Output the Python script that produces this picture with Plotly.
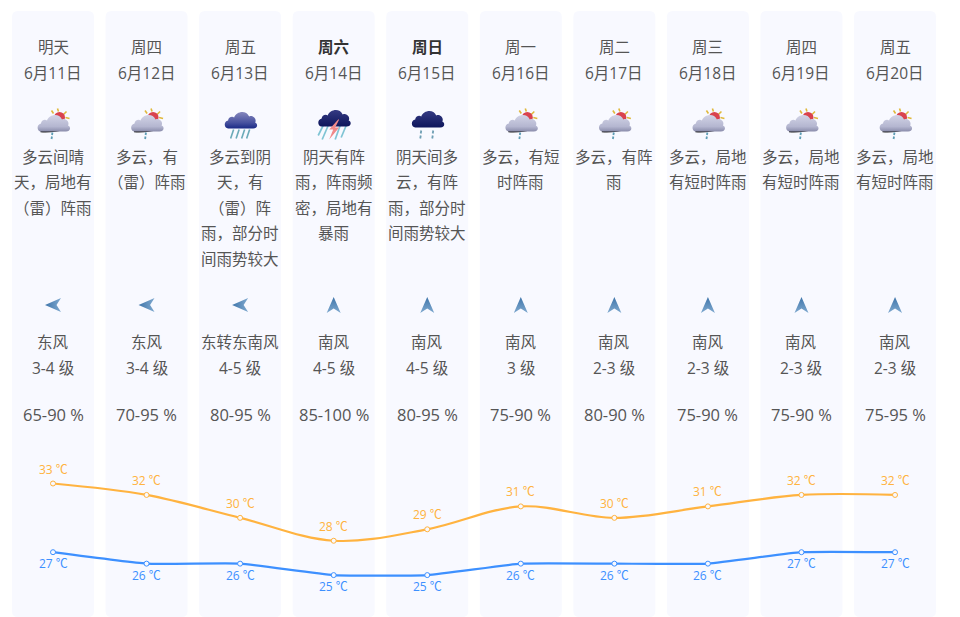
import base64
import plotly.graph_objects as go

# Forecast data
days = ["明天", "周四", "周五", "周六", "周日", "周一", "周二", "周三", "周四", "周五"]
dates = ["6月11日", "6月12日", "6月13日", "6月14日", "6月15日", "6月16日", "6月17日", "6月18日", "6月19日", "6月20日"]
bold_days = [3, 4]
icons = ["sun", "sun", "rain", "storm", "dark", "sun", "sun", "sun", "sun", "sun"]
descriptions = [
    ["多云间晴", "天，局地有", "（雷）阵雨"],
    ["多云，有", "（雷）阵雨"],
    ["多云到阴", "天，有", "（雷）阵", "雨，部分时", "间雨势较大"],
    ["阴天有阵", "雨，阵雨频", "密，局地有", "暴雨"],
    ["阴天间多", "云，有阵", "雨，部分时", "间雨势较大"],
    ["多云，有短", "时阵雨"],
    ["多云，有阵", "雨"],
    ["多云，局地", "有短时阵雨"],
    ["多云，局地", "有短时阵雨"],
    ["多云，局地", "有短时阵雨"],
]
wind_names = ["东风", "东风", "东转东南风", "南风", "南风", "南风", "南风", "南风", "南风", "南风"]
wind_levels = ["3-4 级", "3-4 级", "4-5 级", "4-5 级", "4-5 级", "3 级", "2-3 级", "2-3 级", "2-3 级", "2-3 级"]
wind_angles = [270, 270, 270, 0, 0, 0, 0, 0, 0, 0]
humidity = ["65-90 %", "70-95 %", "80-95 %", "85-100 %", "80-95 %", "75-90 %", "80-90 %", "75-90 %", "75-90 %", "75-95 %"]
high_temps = [33, 32, 30, 28, 29, 31, 30, 31, 32, 32]
low_temps = [27, 26, 26, 25, 25, 26, 26, 26, 27, 27]

W, H = 960, 617
x_first, x_step = 53, 93.56
deg_px = 11.45
y_33 = 483.5

TEXT = "#555555"
FONT = "Open Sans, Noto Sans CJK SC"
ORANGE = "#ffb340"
BLUE = "#3d90ff"
CARD = "#f8f9ff"


def px_x(px):
    return px / W


def px_y(py):
    return 1 - py / H


def data_uri(svg):
    return "data:image/svg+xml;base64," + base64.b64encode(svg.encode()).decode()


def cloud(fill_id, dx, dy):
    return (
        f'<path transform="translate({dx} {dy})" d="M4 19 C0 19 -1 12 4 11 C4 8 8 6 10 8 '
        f'C12 2 22 0 25 7 C29 5 33 10 31 13 C34 14 34 19 29 19 Z" fill="url(#{fill_id})"/>'
    )


def svg_icon(kind):
    defs = (
        '<defs>'
        '<linearGradient id="lt" x1="0" y1="0" x2="0" y2="1"><stop offset="0" stop-color="#d2d3e6"/>'
        '<stop offset="0.7" stop-color="#b4b6d0"/><stop offset="1" stop-color="#8a8cab"/></linearGradient>'
        '<linearGradient id="bl" x1="0" y1="0" x2="0" y2="1"><stop offset="0" stop-color="#8587bd"/>'
        '<stop offset="0.65" stop-color="#47519f"/><stop offset="1" stop-color="#1a2a86"/></linearGradient>'
        '<linearGradient id="dk" x1="0" y1="0" x2="0" y2="1"><stop offset="0" stop-color="#343a82"/>'
        '<stop offset="1" stop-color="#0e165c"/></linearGradient>'
        '</defs>'
    )
    body = ""
    if kind == "sun":
        body += (
            '<g stroke="#e0b93c" stroke-width="1.6">'
            '<path d="M22 1 L23 4"/><path d="M31 4 L28 7"/><path d="M34 11 L30 10"/><path d="M16 3 L18 6"/></g>'
            '<circle cx="24" cy="10" r="5.5" fill="#d9434e"/>'
        )
        body += '<path d="M5 24 Q17 25 31 21" stroke="#222" stroke-width="1.4" fill="none"/>' + cloud("lt", 1.5, 5)
        body += '<g stroke="#5f9db5" stroke-width="1.8"><path d="M17 25 L16.5 27.5"/><path d="M16.5 29 L16 31.5"/></g>'
    elif kind == "rain":
        body += cloud("bl", 1.5, 2)
        body += (
            '<g stroke="#6aaab8" stroke-width="1.6">'
            '<path d="M11 22 L8 31"/><path d="M16.5 22 L13.5 31"/><path d="M22 22 L19 31"/><path d="M27 22 L24 31"/></g>'
        )
    elif kind == "storm":
        body += (
            '<g stroke="#7fc4d4" stroke-width="1.7">'
            '<path d="M7 18 L2 28"/><path d="M12 18 L6 32"/><path d="M24 18 L19 32"/><path d="M30 18 L25 30"/></g>'
        )
        body += cloud("dk", 1.5, 0)
        body += '<path d="M22 12 L13 22 L17 22 L13 32 L23 20 L19 20 L23 12 Z" fill="#f08a8a"/>'
    else:
        body += cloud("dk", 1.5, 1)
        body += (
            '<g stroke="#6f9fb4" stroke-width="1.8">'
            '<path d="M11.5 23 L11 26"/><path d="M11 28 L10.5 31"/><path d="M23.5 23 L23 26"/><path d="M23 28 L22.5 31"/></g>'
        )
    return data_uri(f'<svg xmlns="http://www.w3.org/2000/svg" width="35" height="33" viewBox="0 0 35 33">{defs}{body}</svg>')


def svg_arrow(angle):
    # notched arrow, pointing up before rotation
    return data_uri(
        '<svg xmlns="http://www.w3.org/2000/svg" width="18" height="18" viewBox="0 0 18 18">'
        '<defs><linearGradient id="w" x1="0" y1="0" x2="0" y2="1"><stop offset="0" stop-color="#3f75aa"/>'
        '<stop offset="1" stop-color="#7fa9cf"/></linearGradient></defs>'
        f'<path transform="rotate({angle} 9 9)" d="M9 1 L16 17 L9 12.5 L2 17 Z" fill="url(#w)"/></svg>'
    )


x_idx = list(range(len(days)))
x_px = [x_first + x_step * i for i in x_idx]

fig = go.Figure()

fig.add_trace(
    go.Scatter(
        x=x_idx,
        y=high_temps,
        mode="lines+markers",
        line=dict(color=ORANGE, width=2.2, shape="spline", smoothing=1),
        marker=dict(size=5, color=CARD, line=dict(color=ORANGE, width=1)),
    )
)
fig.add_trace(
    go.Scatter(
        x=x_idx,
        y=low_temps,
        mode="lines+markers",
        line=dict(color=BLUE, width=2.2, shape="spline", smoothing=0.4),
        marker=dict(size=5, color=CARD, line=dict(color=BLUE, width=1)),
    )
)

# Cards behind everything
shapes = []
for cx in x_px:
    l, r, t, b = cx - 41, cx + 41, 11, 617
    rad = 6
    path = (
        f"M {px_x(l + rad)} {px_y(t)} L {px_x(r - rad)} {px_y(t)} "
        f"Q {px_x(r)} {px_y(t)} {px_x(r)} {px_y(t + rad)} "
        f"L {px_x(r)} {px_y(b - rad)} Q {px_x(r)} {px_y(b)} {px_x(r - rad)} {px_y(b)} "
        f"L {px_x(l + rad)} {px_y(b)} Q {px_x(l)} {px_y(b)} {px_x(l)} {px_y(b - rad)} "
        f"L {px_x(l)} {px_y(t + rad)} Q {px_x(l)} {px_y(t)} {px_x(l + rad)} {px_y(t)} Z"
    )
    shapes.append(dict(type="path", path=path, xref="paper", yref="paper", fillcolor=CARD, line_width=0, layer="below"))


def add_text(text, cx, cy, bold=False, size=15.5):
    fig.add_annotation(
        x=px_x(cx),
        y=px_y(cy),
        xref="paper",
        yref="paper",
        text=f"<b>{text}</b>" if bold else text,
        showarrow=False,
        xanchor="center",
        yanchor="middle",
        font=dict(family=FONT, size=size, color="#333333" if bold else TEXT),
    )


def add_image(source, cx, cy, w, h):
    images.append(
        dict(
            source=source,
            xref="paper",
            yref="paper",
            x=px_x(cx),
            y=px_y(cy),
            sizex=w / W,
            sizey=h / H,
            xanchor="center",
            yanchor="middle",
            sizing="contain",
            layer="above",
        )
    )


images = []
for i, cx in enumerate(x_px):
    add_text(days[i], cx, 47, bold=i in bold_days)
    add_text(dates[i], cx, 73)
    for j, line in enumerate(descriptions[i]):
        add_text(line, cx, 156.5 + j * 25.6)
    add_text(wind_names[i], cx, 341.5)
    add_text(wind_levels[i], cx, 368)
    add_text(humidity[i], cx, 414, size=16.5)
    add_image(svg_icon(icons[i]), cx, 124, 35, 33)
    add_image(svg_arrow(wind_angles[i]), cx, 305, 18, 18)
    # Temperature labels sit off the points by a fixed pixel distance
    fig.add_annotation(
        x=i, y=high_temps[i], text=f"{high_temps[i]} ℃", showarrow=False, yshift=14.5,
        font=dict(family=FONT, size=12, color=ORANGE),
    )
    fig.add_annotation(
        x=i, y=low_temps[i], text=f"{low_temps[i]} ℃", showarrow=False, yshift=-11.5,
        font=dict(family=FONT, size=12, color=BLUE),
    )

fig.update_layout(
    width=W,
    height=H,
    margin=dict(l=0, r=0, t=0, b=0),
    paper_bgcolor="white",
    plot_bgcolor="white",
    showlegend=False,
    hovermode=False,
    shapes=shapes,
    images=images,
    xaxis=dict(
        visible=False,
        range=[(0 - x_first) / x_step, (W - x_first) / x_step],
        fixedrange=True,
    ),
    yaxis=dict(
        visible=False,
        range=[33 - (H - y_33) / deg_px, 33 + y_33 / deg_px],
        fixedrange=True,
    ),
)

fig.write_html(
    "out.html",
    config={"displayModeBar": False},
    post_script="document.body.style.margin='0';",
)
